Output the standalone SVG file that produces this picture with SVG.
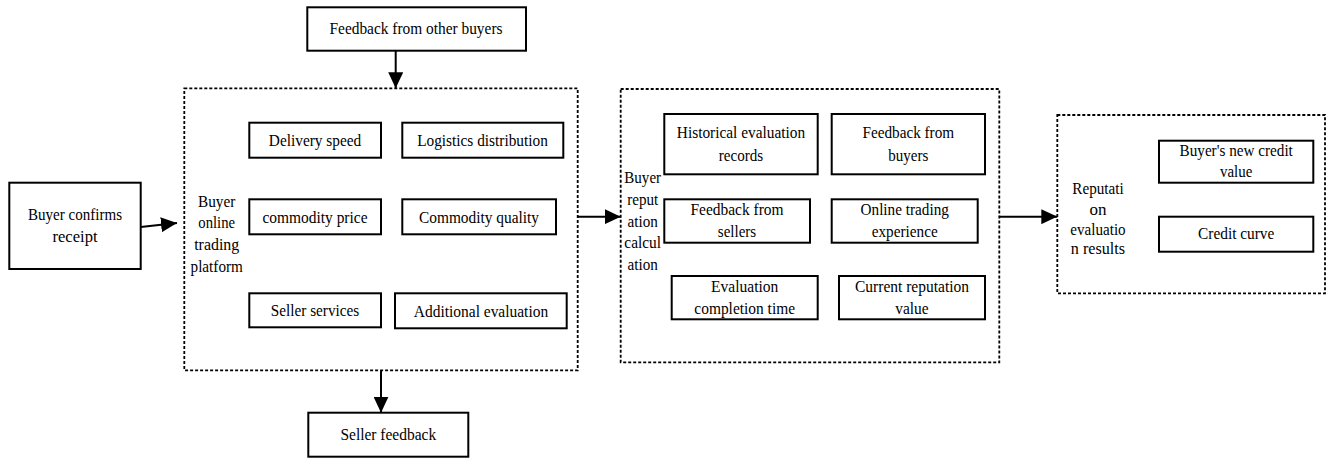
<svg xmlns="http://www.w3.org/2000/svg" width="1335" height="459" viewBox="0 0 1335 459">
<style>
text{font-family:"Liberation Serif","Times New Roman",serif;font-size:17px;fill:#000;text-anchor:middle}
.box{fill:#fff;stroke:#000;stroke-width:2}
.grp{fill:none;stroke:#000;stroke-width:1.8;stroke-dasharray:3 2}
.conn{fill:none;stroke:#000;stroke-width:2}
</style>
<defs>
<marker id="ah" markerUnits="userSpaceOnUse" markerWidth="16" markerHeight="15" refX="16" refY="7.5" orient="auto">
<path d="M0,0 L16,7.5 L0,15 z" fill="#000"/>
</marker>
</defs>
<rect width="1335" height="459" fill="#fff"/>

<g id="group-platform">
<rect class="grp" x="184.3" y="88.3" width="393.4" height="282"/>
<text x="216.7" y="206.7" textLength="37.3" lengthAdjust="spacingAndGlyphs">Buyer</text>
<text x="216.7" y="228.3" textLength="36.7" lengthAdjust="spacingAndGlyphs">online</text>
<text x="216.7" y="250" textLength="45" lengthAdjust="spacingAndGlyphs">trading</text>
<text x="216.7" y="271.7" textLength="52.3" lengthAdjust="spacingAndGlyphs">platform</text>
</g>
<g id="group-calculation">
<rect class="grp" x="620.7" y="89" width="378.6" height="273.3"/>
<text x="642.7" y="182.7" textLength="36.7" lengthAdjust="spacingAndGlyphs">Buyer</text>
<text x="642.7" y="205" textLength="31" lengthAdjust="spacingAndGlyphs">reput</text>
<text x="642.7" y="226.7" textLength="30.3" lengthAdjust="spacingAndGlyphs">ation</text>
<text x="642.7" y="248.3" textLength="36.7" lengthAdjust="spacingAndGlyphs">calcul</text>
<text x="642.7" y="270" textLength="30.3" lengthAdjust="spacingAndGlyphs">ation</text>
</g>
<g id="group-results">
<rect class="grp" x="1057.3" y="115" width="267.7" height="178.3"/>
<text x="1098" y="194.3" textLength="51.3" lengthAdjust="spacingAndGlyphs">Reputati</text>
<text x="1098" y="215" textLength="17" lengthAdjust="spacingAndGlyphs">on</text>
<text x="1098" y="235" textLength="55.3" lengthAdjust="spacingAndGlyphs">evaluatio</text>
<text x="1098" y="254" textLength="54.3" lengthAdjust="spacingAndGlyphs">n results</text>
</g>

<g id="connectors">
<line class="conn" x1="395.7" y1="50.7" x2="395.7" y2="88.3" marker-end="url(#ah)"/>
<line class="conn" x1="140.7" y1="227" x2="177" y2="223" marker-end="url(#ah)"/>
<line class="conn" x1="381" y1="370.3" x2="381" y2="412.7" marker-end="url(#ah)"/>
<line class="conn" x1="577.7" y1="216.7" x2="620.7" y2="216.7" marker-end="url(#ah)"/>
<line class="conn" x1="999.3" y1="216.7" x2="1057.3" y2="216.7" marker-end="url(#ah)"/>
</g>

<g id="feedback-other-buyers">
<rect class="box" x="307.3" y="7.3" width="218.7" height="43.4"/>
<text x="416" y="34" textLength="173" lengthAdjust="spacingAndGlyphs">Feedback from other buyers</text>
</g>
<g id="buyer-confirms">
<rect class="box" x="9.3" y="182.7" width="131.4" height="86.3"/>
<text x="75" y="220" textLength="94" lengthAdjust="spacingAndGlyphs">Buyer confirms</text>
<text x="75" y="241.7" textLength="45" lengthAdjust="spacingAndGlyphs">receipt</text>
</g>
<g id="seller-feedback">
<rect class="box" x="308.3" y="412.7" width="160" height="44"/>
<text x="388.3" y="440" textLength="95.7" lengthAdjust="spacingAndGlyphs">Seller feedback</text>
</g>

<g id="delivery-speed">
<rect class="box" x="249.3" y="122.7" width="131.7" height="35"/>
<text x="315" y="145.5" textLength="92.3" lengthAdjust="spacingAndGlyphs">Delivery speed</text>
</g>
<g id="logistics-distribution">
<rect class="box" x="402.3" y="122.7" width="161" height="35"/>
<text x="482.5" y="145.5" textLength="130.7" lengthAdjust="spacingAndGlyphs">Logistics distribution</text>
</g>
<g id="commodity-price">
<rect class="box" x="249.3" y="199.3" width="131.7" height="35"/>
<text x="315" y="222.5" textLength="105" lengthAdjust="spacingAndGlyphs">commodity price</text>
</g>
<g id="commodity-quality">
<rect class="box" x="402.3" y="199.3" width="153.7" height="35"/>
<text x="479" y="222.5" textLength="120" lengthAdjust="spacingAndGlyphs">Commodity quality</text>
</g>
<g id="seller-services">
<rect class="box" x="249.3" y="293.3" width="131.7" height="34"/>
<text x="315" y="316" textLength="88.3" lengthAdjust="spacingAndGlyphs">Seller services</text>
</g>
<g id="additional-evaluation">
<rect class="box" x="395" y="293.3" width="171.7" height="35"/>
<text x="481" y="316.5" textLength="134.3" lengthAdjust="spacingAndGlyphs">Additional evaluation</text>
</g>

<g id="historical-evaluation">
<rect class="box" x="664.3" y="114" width="153.4" height="60.3"/>
<text x="741" y="138.3" textLength="128.3" lengthAdjust="spacingAndGlyphs">Historical evaluation</text>
<text x="741" y="160.7" textLength="44.3" lengthAdjust="spacingAndGlyphs">records</text>
</g>
<g id="feedback-buyers">
<rect class="box" x="831.7" y="114" width="153.3" height="60.3"/>
<text x="908.3" y="138.3" textLength="91.7" lengthAdjust="spacingAndGlyphs">Feedback from</text>
<text x="908.3" y="160.7" textLength="40" lengthAdjust="spacingAndGlyphs">buyers</text>
</g>
<g id="feedback-sellers">
<rect class="box" x="664.3" y="199.3" width="145.7" height="43.4"/>
<text x="737" y="215" textLength="93" lengthAdjust="spacingAndGlyphs">Feedback from</text>
<text x="737" y="236.7" textLength="38.3" lengthAdjust="spacingAndGlyphs">sellers</text>
</g>
<g id="online-trading">
<rect class="box" x="831.7" y="199.3" width="146" height="43.4"/>
<text x="904.7" y="215" textLength="88.3" lengthAdjust="spacingAndGlyphs">Online trading</text>
<text x="904.7" y="236.7" textLength="66" lengthAdjust="spacingAndGlyphs">experience</text>
</g>
<g id="evaluation-time">
<rect class="box" x="671.7" y="276" width="146" height="43.3"/>
<text x="744.7" y="292.3" textLength="67.3" lengthAdjust="spacingAndGlyphs">Evaluation</text>
<text x="744.7" y="314.3" textLength="100.7" lengthAdjust="spacingAndGlyphs">completion time</text>
</g>
<g id="current-reputation">
<rect class="box" x="839" y="276" width="146" height="43.3"/>
<text x="912" y="292.3" textLength="114" lengthAdjust="spacingAndGlyphs">Current reputation</text>
<text x="912" y="314.3" textLength="33.3" lengthAdjust="spacingAndGlyphs">value</text>
</g>

<g id="new-credit-value">
<rect class="box" x="1159" y="140.7" width="154.3" height="42"/>
<text x="1236.2" y="156" textLength="113.3" lengthAdjust="spacingAndGlyphs">Buyer's new credit</text>
<text x="1236.2" y="177.3" textLength="32.3" lengthAdjust="spacingAndGlyphs">value</text>
</g>
<g id="credit-curve">
<rect class="box" x="1159" y="216.7" width="154.3" height="35"/>
<text x="1236.2" y="239.3" textLength="76.3" lengthAdjust="spacingAndGlyphs">Credit curve</text>
</g>
</svg>
